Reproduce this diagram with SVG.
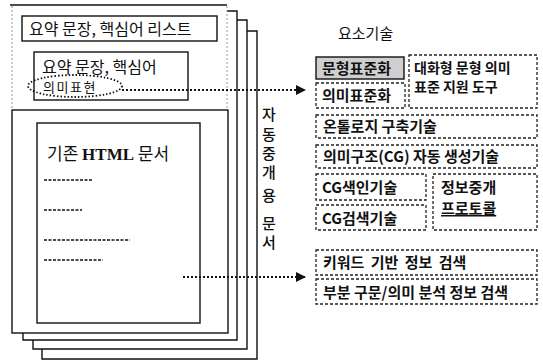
<svg xmlns="http://www.w3.org/2000/svg" width="543" height="360" viewBox="0 0 543 360">
<style>
.k{font-family:"Noto Sans CJK KR","Noto Sans",sans-serif;fill:#111}
.b{font-weight:bold}
.pg{fill:none;stroke:#111;stroke-width:1.4}
.faint{fill:none;stroke:#999;stroke-width:1;stroke-dasharray:2 2}
.sol{fill:none;stroke:#111;stroke-width:1.4}
.dot{fill:none;stroke:#222;stroke-width:1.3;stroke-dasharray:3 2}
.conn{fill:none;stroke:#111;stroke-width:2;stroke-dasharray:2 2}
</style>
<defs>
<marker id="ah" markerWidth="10" markerHeight="10" refX="9" refY="5" orient="auto" markerUnits="userSpaceOnUse">
<path d="M0,0 L10,5 L0,10 Z" fill="#111"/>
</marker>
</defs>
<rect width="543" height="360" fill="#fff"/>
<g id="pages">
<polyline class="pg" points="247,31 257,31 257,359 42,359 42,349"/>
<polyline class="pg" points="237,20 247,20 247,349 33,349 33,340"/>
<polyline class="pg" points="227,11 237,11 237,340 23,340 23,333"/>
<line class="pg" x1="10" y1="5" x2="227" y2="5"/>
<line class="faint" x1="12" y1="6" x2="12" y2="110"/>
<line class="faint" x1="227" y1="6" x2="227" y2="110"/>
<rect class="pg" x="12" y="110" width="216" height="223"/>
</g>
<g id="summary-list">
<rect class="sol" x="22" y="16" width="195" height="25"/>
<text class="k" x="29" y="35" font-size="16">요약 문장, 핵심어 리스트</text>
</g>
<g id="summary-semantic">
<rect class="sol" x="34" y="52" width="154" height="48"/>
<text class="k" x="42" y="73" font-size="16">요약 문장, 핵심어</text>
<text class="k" x="43" y="92" font-size="13" letter-spacing="1.5">의미표현</text>
<ellipse fill="none" stroke="#111" stroke-width="1.8" stroke-dasharray="1.5 2" cx="75" cy="86" rx="47" ry="11"/>
</g>
<g id="html-doc">
<rect class="sol" x="37" y="123" width="163" height="200"/>
<text class="k" x="47" y="160" font-size="17">기존 <tspan font-family="'Liberation Serif',serif" font-weight="bold">HTML</tspan> 문서</text>
<g stroke="#111" stroke-width="1.5" stroke-dasharray="3 1.5">
<line x1="44" y1="180" x2="92" y2="180"/>
<line x1="44" y1="210" x2="82" y2="210"/>
<line x1="44" y1="240" x2="130" y2="240"/>
<line x1="44" y1="260" x2="103" y2="260"/>
</g>
</g>
<g id="vertical-label">
<g class="k" font-size="15" text-anchor="middle" font-weight="500">
<text x="269" y="120">자</text>
<text x="269" y="140">동</text>
<text x="269" y="159">중</text>
<text x="269" y="178">개</text>
<text x="269" y="201">용</text>
<text x="269" y="229">문</text>
<text x="269" y="248">서</text>
</g>
</g>
<g id="connectors">
<line class="conn" x1="122" y1="90" x2="305" y2="90" marker-end="url(#ah)"/>
<line class="conn" x1="183" y1="277" x2="305" y2="277" marker-end="url(#ah)"/>
</g>
<g id="title">
<text class="k" x="338" y="39" font-size="15">요소기술</text>
</g>
<g id="n-munhyeong">
<rect x="316" y="57" width="88" height="22" fill="#cfcfcf" stroke="#111" stroke-width="1.4"/>
<text class="k b" x="322" y="74" font-size="15">문형표준화</text>
</g>
<g id="n-uimi">
<rect class="dot" x="316" y="83" width="89" height="25"/>
<text class="k b" x="322" y="101" font-size="15">의미표준화</text>
</g>
<g id="n-tool">
<rect class="dot" x="409" y="55" width="128" height="53"/>
<text class="k b" x="414" y="73" font-size="14">대화형 문형 의미</text>
<text class="k b" x="414" y="92" font-size="14">표준 지원 도구</text>
</g>
<g id="n-ontology">
<rect class="dot" x="316" y="115" width="221" height="23"/>
<text class="k b" x="323" y="132" font-size="15">온톨로지 구축기술</text>
</g>
<g id="n-cg-gen">
<rect class="dot" x="316" y="145" width="221" height="23"/>
<text class="k b" x="323" y="162" font-size="15">의미구조(CG) 자동 생성기술</text>
</g>
<g id="n-cg-index">
<rect class="dot" x="316" y="174" width="110" height="26"/>
<text class="k b" x="322" y="193" font-size="15">CG색인기술</text>
</g>
<g id="n-cg-search">
<rect class="dot" x="316" y="205" width="110" height="25"/>
<text class="k b" x="322" y="224" font-size="15">CG검색기술</text>
</g>
<g id="n-protocol">
<rect class="dot" x="433" y="174" width="104" height="56"/>
<text class="k b" x="441" y="193" font-size="15">정보중개</text>
<text class="k b" x="441" y="214" font-size="15" text-decoration="underline">프로토콜</text>
</g>
<g id="n-keyword">
<rect class="dot" x="316" y="250" width="221" height="25"/>
<text class="k b" x="323" y="268" font-size="15" word-spacing="3">키워드 기반 정보 검색</text>
</g>
<g id="n-partial">
<rect class="dot" x="316" y="279" width="221" height="25"/>
<text class="k b" x="323" y="298" font-size="15">부분 구문/의미 분석 정보 검색</text>
</g>
</svg>
